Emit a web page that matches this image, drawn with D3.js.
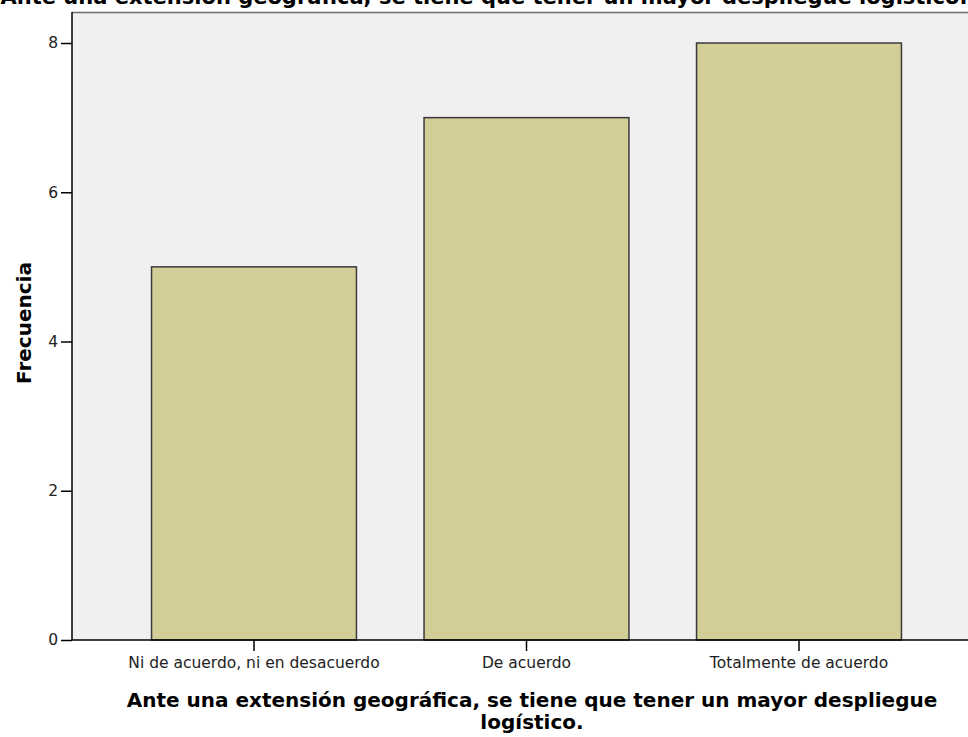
<!DOCTYPE html>
<html>
<head>
<meta charset="utf-8">
<script src="https://cdn.jsdelivr.net/npm/d3@7"></script>
<style>
  body { margin: 0; background: #fff; }
  svg { display: block; }
</style>
</head>
<body>
<svg id="chart" width="968" height="737"></svg>
<script>
//Data
let categories = ["Ni de acuerdo, ni en desacuerdo", "De acuerdo", "Totalmente de acuerdo"];
let frecuencia = [5, 7, 8];
let yTicks = [0, 2, 4, 6, 8];
let chartTitle = "Ante una extensión geográfica, se tiene que tener un mayor despliegue logístico.";
let xTitleLines = ["Ante una extensión geográfica, se tiene que tener un mayor despliegue", "logístico."];
let yTitle = "Frecuencia";

let svg = d3.select("#chart");

//Plot area
let plotLeft = 72, plotTop = 12, plotRight = 968, plotBottom = 640;

//Scales
let x = d3.scaleBand()
    .domain(categories)
    .range([117.75, 935.25])
    .paddingInner(0.248)
    .paddingOuter(0.124);

let y = d3.scaleLinear()
    .domain([0, 8])
    .range([plotBottom, 43]);

//Title cut at the top
svg.append("text")
    .attr("x", 484)
    .attr("y", 4)
    .attr("text-anchor", "middle")
    .attr("font-family", "DejaVu Sans")
    .attr("font-weight", "bold")
    .attr("font-size", "21px")
    .attr("fill", "#000")
    .text(chartTitle);

//Background of plot
svg.append("rect")
    .attr("x", plotLeft)
    .attr("y", plotTop)
    .attr("width", plotRight - plotLeft)
    .attr("height", plotBottom - plotTop)
    .attr("fill", "#f0f0f0");

svg.append("line")
    .attr("x1", plotLeft).attr("x2", plotRight)
    .attr("y1", plotTop + 0.5).attr("y2", plotTop + 0.5)
    .attr("stroke", "#6e6e6e")
    .attr("stroke-width", 1.5);

//Bars
svg.append("g")
    .selectAll("rect")
    .data(frecuencia)
    .enter().append("rect")
    .attr("x", (d, i) => x(categories[i]))
    .attr("y", d => y(d))
    .attr("width", x.bandwidth())
    .attr("height", d => y(0) - y(d))
    .attr("fill", "#d3ce97")
    .attr("stroke", "#3a3a3a")
    .attr("stroke-width", 1.5);

//Y axis
let yAxis = svg.append("g")
    .attr("transform", "translate(" + plotLeft + ",0)")
    .call(d3.axisLeft(y).tickValues(yTicks).tickSize(11).tickPadding(3).tickSizeOuter(0));
yAxis.select(".domain").remove();
yAxis.append("line")
    .attr("x1", 0).attr("x2", 0)
    .attr("y1", plotTop).attr("y2", plotBottom)
    .attr("stroke", "#000")
    .attr("stroke-width", 1.5);
yAxis.selectAll(".tick line").attr("stroke", "#000").attr("stroke-width", 1.5);
yAxis.selectAll(".tick text")
    .attr("font-family", "DejaVu Sans")
    .attr("font-size", "15.5px")
    .attr("fill", "#222");

//X axis
let xAxis = svg.append("g")
    .attr("transform", "translate(0," + plotBottom + ")")
    .call(d3.axisBottom(x).tickSize(11).tickPadding(6).tickSizeOuter(0));
xAxis.select(".domain").remove();
xAxis.append("line")
    .attr("x1", plotLeft).attr("x2", plotRight)
    .attr("y1", 0).attr("y2", 0)
    .attr("stroke", "#000")
    .attr("stroke-width", 1.5);
xAxis.selectAll(".tick line").attr("stroke", "#000").attr("stroke-width", 1.5);
xAxis.selectAll(".tick text")
    .attr("font-family", "DejaVu Sans")
    .attr("font-size", "15.5px")
    .attr("fill", "#222");

//Axis titles
svg.append("text")
    .attr("transform", "translate(31," + 323 + ") rotate(-90)")
    .attr("text-anchor", "middle")
    .attr("font-family", "DejaVu Sans")
    .attr("font-weight", "bold")
    .attr("font-size", "20px")
    .text(yTitle);

svg.append("g")
    .selectAll("text")
    .data(xTitleLines)
    .enter().append("text")
    .attr("x", 532)
    .attr("y", (d, i) => 707 + i * 22)
    .attr("text-anchor", "middle")
    .attr("font-family", "DejaVu Sans")
    .attr("font-weight", "bold")
    .attr("font-size", "20px")
    .text(d => d);
</script>
</body>
</html>
